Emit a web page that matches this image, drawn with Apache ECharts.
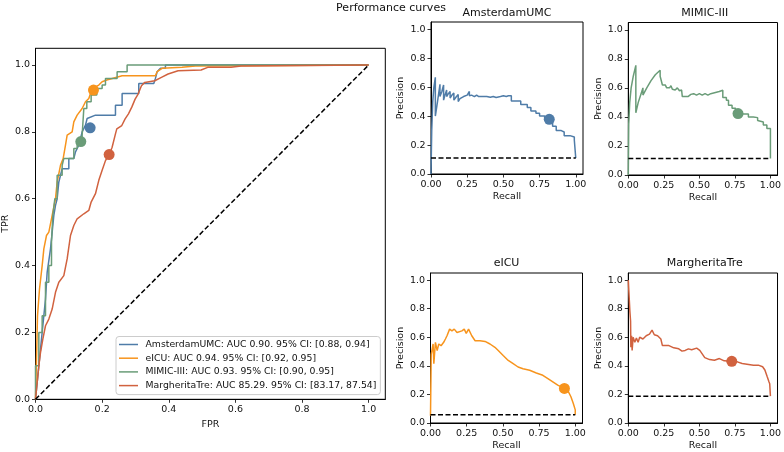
<!DOCTYPE html>
<html><head><meta charset="utf-8">
<script src="https://cdn.jsdelivr.net/npm/echarts@6/dist/echarts.min.js"></script>
<style>html,body{margin:0;padding:0;background:#fff}#c{width:784px;height:452px}</style>
</head><body><div id="c"></div>
<script>
// ---------- data ----------
const rocLabels = [
  'AmsterdamUMC: AUC 0.90. 95% CI: [0.88, 0.94]',
  'eICU: AUC 0.94. 95% CI: [0.92, 0.95]',
  'MIMIC-III: AUC 0.93. 95% CI: [0.90, 0.95]',
  'MargheritaTre: AUC 85.29. 95% CI: [83.17, 87.54]'
];
const prTitles = ['AmsterdamUMC', 'MIMIC-III', 'eICU', 'MargheritaTre'];
const colors = { ams: '#4f7ca8', eicu: '#f7941d', mimic: '#6a9c78', marg: '#d1623f' };

const amsRocFpr = [0,0.005,0.01,0.015,0.02,0.025,0.03,0.035,0.045,0.05,0.055,0.06,0.065,0.07,0.08,0.1,0.1,0.115,0.12,0.13,0.14,0.15,0.155,0.18,0.24,0.24,0.26,0.26,0.31,0.31,0.355,0.36,0.365,0.375,0.39,0.39,1];
const amsRocTpr = [0,0.05,0.1,0.15,0.2,0.25,0.3,0.38,0.45,0.5,0.55,0.58,0.6,0.65,0.69,0.69,0.72,0.72,0.74,0.76,0.8,0.82,0.84,0.85,0.85,0.88,0.88,0.915,0.915,0.945,0.945,0.96,0.98,0.99,0.99,1,1];

const eicuRocFpr = [0,0.003,0.006,0.012,0.02,0.025,0.033,0.04,0.05,0.06,0.065,0.075,0.083,0.09,0.095,0.11,0.115,0.125,0.14,0.15,0.16,0.17,0.19,0.2,0.214,0.26,0.36,0.365,0.38,0.44,0.48,0.48,1];
const eicuRocTpr = [0,0.12,0.25,0.33,0.4,0.45,0.49,0.5,0.55,0.6,0.65,0.7,0.72,0.76,0.79,0.8,0.83,0.85,0.87,0.89,0.9,0.93,0.94,0.95,0.955,0.968,0.968,0.98,0.99,0.993,0.997,1,1];

const mimicRocFpr = [0,0,0.01,0.01,0.02,0.02,0.03,0.03,0.04,0.04,0.048,0.048,0.052,0.052,0.058,0.058,0.065,0.065,0.08,0.08,0.085,0.085,0.115,0.115,0.125,0.125,0.14,0.14,0.145,0.145,0.154,0.154,0.167,0.167,0.184,0.184,0.2,0.2,0.21,0.21,0.245,0.245,0.275,0.275,1];
const mimicRocTpr = [0,0.1,0.1,0.2,0.2,0.25,0.25,0.35,0.35,0.4,0.4,0.47,0.47,0.55,0.55,0.6,0.6,0.67,0.67,0.7,0.7,0.72,0.72,0.75,0.75,0.77,0.77,0.79,0.79,0.87,0.87,0.89,0.89,0.91,0.91,0.93,0.93,0.94,0.94,0.96,0.96,0.98,0.98,1,1];

const margRocFpr = [0,0.005,0.01,0.015,0.022,0.03,0.04,0.05,0.06,0.07,0.085,0.095,0.105,0.115,0.125,0.145,0.16,0.167,0.18,0.19,0.2,0.21,0.222,0.23,0.24,0.244,0.259,0.269,0.279,0.289,0.299,0.308,0.318,0.328,0.358,0.378,0.398,0.428,0.497,0.517,0.587,0.617,0.62,1];
const margRocTpr = [0,0.05,0.1,0.14,0.18,0.22,0.24,0.27,0.32,0.35,0.37,0.42,0.49,0.52,0.54,0.555,0.565,0.59,0.615,0.655,0.685,0.714,0.734,0.754,0.794,0.809,0.819,0.839,0.854,0.874,0.898,0.913,0.938,0.948,0.953,0.963,0.973,0.983,0.985,0.993,0.993,0.997,1,1];

const rocOpX = [0.164, 0.174, 0.136, 0.221];
const rocOpY = [0.812, 0.925, 0.771, 0.732];

const amsPrRecall = [0,0.005,0.012,0.02,0.03,0.03,0.045,0.062,0.062,0.075,0.087,0.087,0.098,0.108,0.108,0.12,0.132,0.132,0.145,0.158,0.158,0.172,0.188,0.188,0.2,0.225,0.25,0.265,0.265,0.28,0.3,0.315,0.33,0.34,0.36,0.385,0.41,0.43,0.45,0.48,0.5,0.52,0.535,0.555,0.555,0.62,0.62,0.665,0.665,0.69,0.69,0.725,0.725,0.75,0.75,0.785,0.785,0.815,0.84,0.84,0.865,0.865,0.9,0.9,0.92,0.92,0.96,0.96,0.99,0.99,1,1];
const amsPrPrecision = [0,0.3,0.5,0.6,0.668,0.4,0.5,0.62,0.535,0.57,0.615,0.51,0.55,0.58,0.535,0.555,0.57,0.525,0.545,0.56,0.51,0.53,0.55,0.5,0.52,0.535,0.545,0.57,0.54,0.545,0.535,0.545,0.535,0.528,0.535,0.535,0.53,0.535,0.528,0.535,0.54,0.535,0.54,0.54,0.505,0.505,0.48,0.48,0.46,0.46,0.435,0.435,0.42,0.42,0.40,0.40,0.385,0.37,0.36,0.33,0.33,0.30,0.30,0.29,0.29,0.265,0.265,0.255,0.255,0.235,0.235,0.11];

const mimicPrRecall = [0,0.003,0.01,0.02,0.035,0.053,0.053,0.07,0.09,0.103,0.103,0.13,0.16,0.19,0.224,0.224,0.235,0.24,0.245,0.26,0.27,0.28,0.29,0.3,0.31,0.32,0.33,0.345,0.36,0.375,0.38,0.38,0.42,0.44,0.46,0.48,0.5,0.52,0.54,0.56,0.58,0.6,0.62,0.64,0.665,0.665,0.69,0.69,0.705,0.705,0.73,0.73,0.755,0.755,0.8,0.8,0.845,0.845,0.88,0.88,0.91,0.91,0.95,0.95,0.975,0.975,1,1];
const mimicPrPrecision = [0,0.35,0.5,0.6,0.68,0.755,0.428,0.5,0.56,0.6,0.55,0.6,0.65,0.69,0.721,0.68,0.67,0.62,0.61,0.62,0.6,0.61,0.6,0.615,0.59,0.6,0.585,0.6,0.58,0.585,0.585,0.54,0.54,0.555,0.56,0.55,0.56,0.55,0.56,0.55,0.56,0.565,0.57,0.575,0.584,0.533,0.533,0.515,0.515,0.48,0.48,0.46,0.46,0.43,0.435,0.42,0.42,0.40,0.40,0.395,0.395,0.375,0.365,0.345,0.345,0.32,0.32,0.114];

const eicuPrRecall = [0,0.005,0.018,0.023,0.034,0.046,0.057,0.073,0.091,0.103,0.114,0.132,0.148,0.164,0.183,0.194,0.217,0.233,0.247,0.263,0.285,0.308,0.342,0.377,0.411,0.445,0.468,0.502,0.537,0.571,0.605,0.639,0.685,0.731,0.776,0.811,0.845,0.879,0.925,0.947,0.97,0.986,1,1];
const eicuPrPrecision = [0.05,0.48,0.553,0.415,0.565,0.507,0.553,0.541,0.565,0.588,0.611,0.657,0.645,0.657,0.634,0.622,0.645,0.657,0.627,0.657,0.611,0.576,0.576,0.571,0.553,0.53,0.507,0.472,0.438,0.415,0.392,0.38,0.369,0.35,0.334,0.311,0.288,0.265,0.242,0.23,0.184,0.138,0.092,0.058];

const margPrRecall = [0,0.007,0.011,0.016,0.018,0.023,0.027,0.034,0.046,0.057,0.069,0.08,0.103,0.126,0.149,0.167,0.183,0.206,0.229,0.24,0.286,0.32,0.355,0.378,0.4,0.423,0.446,0.481,0.503,0.538,0.572,0.606,0.641,0.675,0.728,0.767,0.801,0.835,0.881,0.915,0.945,0.961,0.977,0.989,0.995,1];
const margPrPrecision = [1,1,0.783,0.714,0.531,0.611,0.508,0.6,0.565,0.595,0.565,0.6,0.588,0.611,0.622,0.65,0.618,0.611,0.588,0.542,0.542,0.526,0.519,0.503,0.508,0.519,0.513,0.524,0.508,0.458,0.444,0.439,0.451,0.435,0.432,0.428,0.416,0.412,0.405,0.405,0.394,0.371,0.325,0.291,0.275,0.188];

const prBaselines = [0.11, 0.114, 0.058, 0.188];
const prOpX = [0.817, 0.772, 0.925, 0.728];
const prOpY = [0.378, 0.423, 0.242, 0.432];

const rocTicks = [0, 0.2, 0.4, 0.6, 0.8, 1.0];
const prXTicks = [0, 0.25, 0.5, 0.75, 1.0];
const prYTicks = [0, 0.2, 0.4, 0.6, 0.8, 1.0];

// ---------- build ----------
const FONT = 'DejaVu Sans';
const zip = (a, b) => a.map((v, i) => [v, b[i]]);

const grids = [
  { left: 33.3, top: 48.3, width: 352, height: 351 },
  { left: 431, top: 22, width: 152, height: 152 },
  { left: 628.3, top: 22.5, width: 153, height: 152.5 },
  { left: 430.5, top: 273, width: 152, height: 152 },
  { left: 628.3, top: 273, width: 153, height: 152.5 }
].map(g => Object.assign(g, { show: true, borderColor: '#000', borderWidth: 1, backgroundColor: 'transparent' }));

function axis(gridIndex, ticks, digits, name, nameGap) {
  return {
    type: 'value', gridIndex, min: 0, max: 1.05,
    name, nameLocation: 'middle', nameGap,
    nameTextStyle: { fontFamily: FONT, fontSize: 9.5, color: '#111' },
    axisLine: { show: true, onZero: false, lineStyle: { color: '#000', width: 1 } },
    axisTick: { show: true, length: 3.5, customValues: ticks, lineStyle: { color: '#000', width: 0.8 } },
    axisLabel: { customValues: ticks, margin: 5.5, fontFamily: FONT, fontSize: 9.5, color: '#111',
      formatter: v => Number(v).toFixed(digits) },
    splitLine: { show: false }
  };
}

const xAxes = [axis(0, rocTicks, 1, 'FPR', 18)];
const yAxes = [axis(0, rocTicks, 1, 'TPR', 23)];
for (let i = 1; i <= 4; i++) {
  xAxes.push(axis(i, prXTicks, 2, 'Recall', 18));
  yAxes.push(axis(i, prYTicks, 1, 'Precision', 25));
}

const rocSets = [
  [amsRocFpr, amsRocTpr, colors.ams],
  [eicuRocFpr, eicuRocTpr, colors.eicu],
  [mimicRocFpr, mimicRocTpr, colors.mimic],
  [margRocFpr, margRocTpr, colors.marg]
];
const series = [];
rocSets.forEach((s, i) => {
  series.push({ type: 'line', name: rocLabels[i], xAxisIndex: 0, yAxisIndex: 0, data: zip(s[0], s[1]),
    showSymbol: false, symbol: 'none', color: s[2], lineStyle: { color: s[2], width: 1.5 }, z: 2 });
});
series.push({ type: 'line', name: 'chance', xAxisIndex: 0, yAxisIndex: 0, data: [[0, 0], [1, 1]], symbol: 'none',
  lineStyle: { color: '#000', width: 1.5, type: [5, 2.5] }, z: 3 });
rocSets.forEach((s, i) => {
  series.push({ type: 'scatter', name: 'roc-op-' + i, xAxisIndex: 0, yAxisIndex: 0, data: [[rocOpX[i], rocOpY[i]]],
    symbolSize: 11, itemStyle: { color: s[2], opacity: 1 }, z: 4 });
});

const prSets = [
  [amsPrRecall, amsPrPrecision, colors.ams],
  [mimicPrRecall, mimicPrPrecision, colors.mimic],
  [eicuPrRecall, eicuPrPrecision, colors.eicu],
  [margPrRecall, margPrPrecision, colors.marg]
];
prSets.forEach((s, i) => {
  const gi = i + 1;
  series.push({ type: 'line', name: 'pr-' + i, xAxisIndex: gi, yAxisIndex: gi, data: zip(s[0], s[1]),
    symbol: 'none', lineStyle: { color: s[2], width: 1.5 }, color: s[2], z: 2 });
  series.push({ type: 'line', name: 'base-' + i, xAxisIndex: gi, yAxisIndex: gi,
    data: [[0, prBaselines[i]], [1, prBaselines[i]]], symbol: 'none',
    lineStyle: { color: '#000', width: 1.5, type: [5, 2.5] }, z: 3 });
  series.push({ type: 'scatter', name: 'pr-op-' + i, xAxisIndex: gi, yAxisIndex: gi, data: [[prOpX[i], prOpY[i]]],
    symbolSize: 11, itemStyle: { color: s[2], opacity: 1 }, z: 4 });
});

const titlePos = [[507, 13.5], [704.8, 13.5], [506.5, 263], [704.8, 263]];
const graphics = [{ type: 'text', x: 391, y: 8, style: { text: 'Performance curves', font: '11px ' + FONT, fill: '#111', align: 'center', verticalAlign: 'middle' } }];
prTitles.forEach((t, i) => graphics.push({ type: 'text', x: titlePos[i][0], y: titlePos[i][1],
  style: { text: t, font: '11px ' + FONT, fill: '#111', align: 'center', verticalAlign: 'middle' } }));

const chart = echarts.init(document.getElementById('c'), null, { renderer: 'canvas' });
chart.setOption({
  animation: false,
  backgroundColor: '#fff',
  textStyle: { fontFamily: FONT },
  grid: grids,
  xAxis: xAxes,
  yAxis: yAxes,
  legend: {
    data: rocLabels, orient: 'vertical', left: 116, top: 336.5,
    icon: 'rect', itemWidth: 19, itemHeight: 1.5, itemGap: 2.7,
    padding: [2.5, 4, 3.5, 3],
    backgroundColor: 'rgba(255,255,255,0.8)', borderColor: '#ccc', borderWidth: 1, borderRadius: 3,
    textStyle: { fontFamily: FONT, fontSize: 9.3, color: '#111', lineHeight: 11, padding: [0, 0, 0, 2.5] },
    selectedMode: false
  },
  graphic: graphics,
  series
});
</script>
</body></html>
